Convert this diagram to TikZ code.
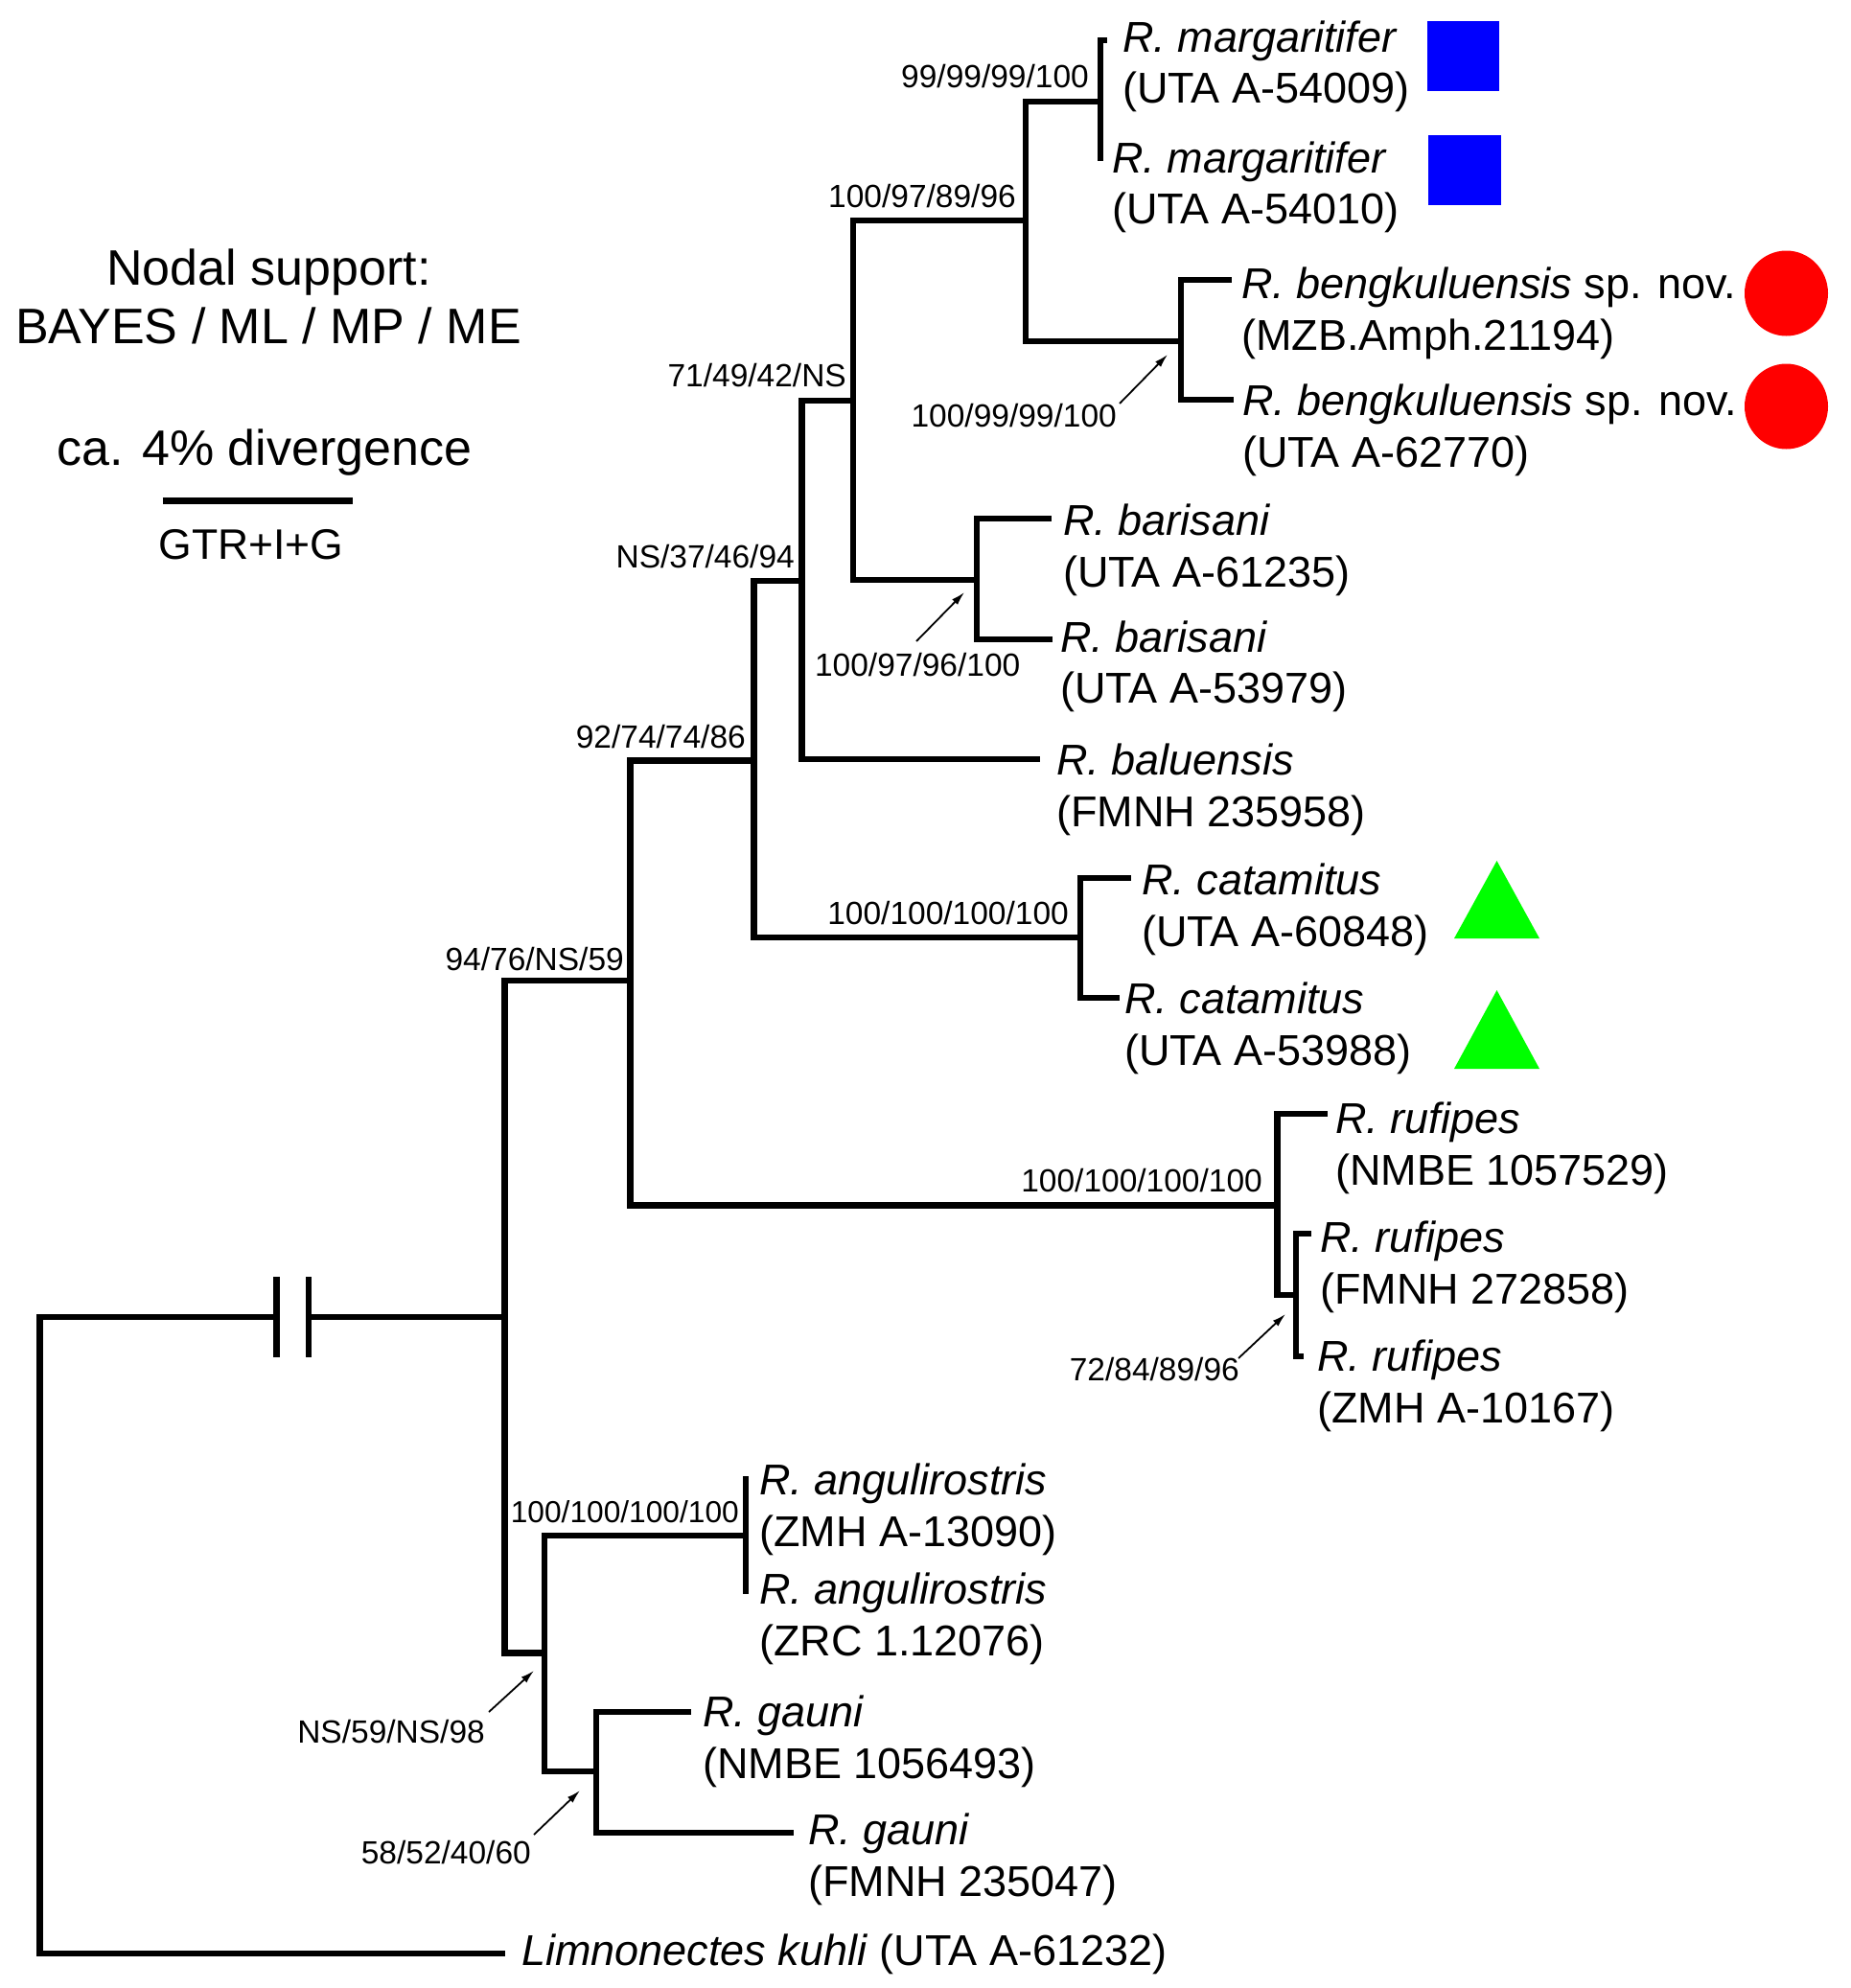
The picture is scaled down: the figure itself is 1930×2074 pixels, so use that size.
\documentclass[tikz,border=0pt]{standalone}
\usepackage{fontspec}
\setmainfont{Liberation Sans}
\usetikzlibrary{arrows.meta}
\definecolor{symblue}{RGB}{0,0,255}
\definecolor{symred}{RGB}{255,0,0}
\definecolor{symgreen}{RGB}{0,255,0}
\begin{document}
\begin{tikzpicture}[x=1pt,y=-1pt,
  branch/.style={line width=6.3pt, line join=miter, line cap=butt},
  pointer/.style={line width=1.8pt, -{Latex[length=14pt,width=8pt]}},
  sup/.style={font=\fontsize{33.5}{40}\selectfont, inner sep=0pt, anchor=base east},
  tax/.style={font=\fontsize{45}{54}\selectfont, inner sep=0pt, anchor=base west},
  legend/.style={font=\fontsize{52}{62}\selectfont, inner sep=0pt, anchor=base}]
\useasboundingbox (0,0) rectangle (1930,2074);
\fill[white] (0,0) rectangle (1930,2074);

% ---------- legend ----------
\node[legend] (leg1) at (280.5,297) {Nodal support:};
\node[legend] (leg2) at (280,358) {BAYES / ML / MP / ME};
\node[legend] (leg3) at (276,485) {ca. 4\% divergence};
\coordinate (sbL) at (169.5,522);
\coordinate (sbR) at (367.5,522);
\draw[line width=7pt] (sbL) -- (sbR);
\node[font=\fontsize{44.5}{53}\selectfont, inner sep=0pt, anchor=base] (gtr) at (262,583) {GTR+I+G};

% ---------- tree coordinates ----------
\coordinate (rootT) at (41.5,1374);
\coordinate (rootB) at (41.5,2038);
\coordinate (brkL) at (288.5,1374);
\coordinate (brkR) at (321.7,1374);
\coordinate (bk1a) at (288.5,1332);
\coordinate (bk1b) at (288.5,1416);
\coordinate (bk2a) at (321.7,1332);
\coordinate (bk2b) at (321.7,1416);
\coordinate (nI) at (526.5,1374);
\coordinate (tLim) at (526.5,2038);
\coordinate (nA) at (657.5,1023);
\coordinate (nM) at (568,1724.5);
\coordinate (nB) at (786.5,793.5);
\coordinate (nK) at (1332.5,1257.5);
\coordinate (nC) at (836.5,606);
\coordinate (nJ) at (1127,978);
\coordinate (nD) at (890,418);
\coordinate (tBal) at (1085,792);
\coordinate (nE) at (1070,230);
\coordinate (nH) at (1019,605);
\coordinate (nF) at (1148,106);
\coordinate (nG) at (1232,356);
\coordinate (tM1) at (1155,42);
\coordinate (tM2) at (1148,168);
\coordinate (tB1) at (1285,292);
\coordinate (tB2) at (1287,417);
\coordinate (tBa1) at (1097,541);
\coordinate (tBa2) at (1098,667);
\coordinate (tC1) at (1180,916);
\coordinate (tC2) at (1168,1041);
\coordinate (tR1) at (1385,1162);
\coordinate (nL) at (1352,1351);
\coordinate (tR2) at (1368,1287);
\coordinate (tR3) at (1360,1415);
\coordinate (nN) at (778,1602);
\coordinate (tA1) at (778,1540);
\coordinate (tA2) at (778,1663);
\coordinate (nO) at (622,1848);
\coordinate (tG1) at (721,1786);
\coordinate (tG2) at (827.5,1912);

% ---------- branches ----------
\draw[branch] (brkL) -- (rootT) -- (rootB) -- (tLim);
\draw[branch] (brkR) -- (nI);
\draw[branch] (bk1a) -- (bk1b);
\draw[branch] (bk2a) -- (bk2b);
\draw[branch] (nI) |- (nA);
\draw[branch] (nI) |- (nM);
\draw[branch] (nA) |- (nB);
\draw[branch] (nA) |- (nK);
\draw[branch] (nB) |- (nC);
\draw[branch] (nB) |- (nJ);
\draw[branch] (nC) |- (nD);
\draw[branch] (nC) |- (tBal);
\draw[branch] (nD) |- (nE);
\draw[branch] (nD) |- (nH);
\draw[branch] (nE) |- (nF);
\draw[branch] (nE) |- (nG);
\draw[branch] (nF) |- (tM1);
\draw[branch] (nF) -- (tM2);
\draw[branch] (nG) |- (tB1);
\draw[branch] (nG) |- (tB2);
\draw[branch] (nH) |- (tBa1);
\draw[branch] (nH) |- (tBa2);
\draw[branch] (nJ) |- (tC1);
\draw[branch] (nJ) |- (tC2);
\draw[branch] (nK) |- (tR1);
\draw[branch] (nK) |- (nL);
\draw[branch] (nL) |- (tR2);
\draw[branch] (nL) |- (tR3);
\draw[branch] (nM) |- (nN);
\draw[branch] (nM) |- (nO);
\draw[branch] (nN) -- (tA1);
\draw[branch] (nN) -- (tA2);
\draw[branch] (nO) |- (tG1);
\draw[branch] (nO) |- (tG2);

% ---------- support values ----------
\node[sup] (s1) at (1136,92) {99/99/99/100};
\node[sup] (s2) at (1060,216) {100/97/89/96};
\node[sup] (s3) at (883,403) {71/49/42/NS};
\node[sup] (s4) at (829,592) {NS/37/46/94};
\node[sup] (s5) at (778,780) {92/74/74/86};
\node[sup] (s6) at (651,1012) {94/76/NS/59};
\node[sup] (s7) at (1115,964) {100/100/100/100};
\node[sup] (s8) at (1317,1243) {100/100/100/100};
\node[sup, font=\fontsize{31.7}{38}\selectfont] (s9) at (771,1588) {100/100/100/100};

\node[sup] (a1) at (1165,445) {100/99/99/100};
\node[sup] (a2) at (1064.5,705) {100/97/96/100};
\node[sup] (a3) at (1293,1440) {72/84/89/96};
\node[sup] (a4) at (506,1818) {NS/59/NS/98};
\node[sup] (a5) at (554,1944) {58/52/40/60};

\coordinate (a1t) at (1168,421);  \coordinate (a1h) at (1218,370);
\coordinate (a2t) at (956,669);   \coordinate (a2h) at (1006,618);
\coordinate (a3t) at (1292,1417); \coordinate (a3h) at (1341,1371);
\coordinate (a4t) at (510,1786);  \coordinate (a4h) at (557,1743);
\coordinate (a5t) at (557,1914);  \coordinate (a5h) at (605,1868);
\draw[pointer] (a1t) -- (a1h);
\draw[pointer] (a2t) -- (a2h);
\draw[pointer] (a3t) -- (a3h);
\draw[pointer] (a4t) -- (a4h);
\draw[pointer] (a5t) -- (a5h);

% ---------- taxa ----------
\node[tax] (m1a) at (1171,55) {\textit{R. margaritifer}};
\node[tax] (m1b) at (1171,108) {(UTA A-54009)};
\node[tax] (m2a) at (1160,180) {\textit{R. margaritifer}};
\node[tax] (m2b) at (1160,233) {(UTA A-54010)};
\node[tax] (b1a) at (1295,311) {\textit{R. bengkuluensis} sp. nov.};
\node[tax] (b1b) at (1295,365) {(MZB.Amph.21194)};
\node[tax] (b2a) at (1296,433) {\textit{R. bengkuluensis} sp. nov.};
\node[tax] (b2b) at (1296,487) {(UTA A-62770)};
\node[tax] (r1a) at (1109,558) {\textit{R. barisani}};
\node[tax] (r1b) at (1109,612) {(UTA A-61235)};
\node[tax] (r2a) at (1106,680) {\textit{R. barisani}};
\node[tax] (r2b) at (1106,733) {(UTA A-53979)};
\node[tax] (la) at (1102,808) {\textit{R. baluensis}};
\node[tax] (lb) at (1102,862) {(FMNH 235958)};
\node[tax] (c1a) at (1191,933) {\textit{R. catamitus}};
\node[tax] (c1b) at (1191,987) {(UTA A-60848)};
\node[tax] (c2a) at (1173,1057) {\textit{R. catamitus}};
\node[tax] (c2b) at (1173,1111) {(UTA A-53988)};
\node[tax] (u1a) at (1393,1182) {\textit{R. rufipes}};
\node[tax] (u1b) at (1393,1236) {(NMBE 1057529)};
\node[tax] (u2a) at (1377,1306) {\textit{R. rufipes}};
\node[tax] (u2b) at (1377,1360) {(FMNH 272858)};
\node[tax] (u3a) at (1374,1430) {\textit{R. rufipes}};
\node[tax] (u3b) at (1374,1484) {(ZMH A-10167)};
\node[tax] (g1a) at (792,1559) {\textit{R. angulirostris}};
\node[tax] (g1b) at (792,1613) {(ZMH A-13090)};
\node[tax] (g2a) at (792,1673) {\textit{R. angulirostris}};
\node[tax] (g2b) at (792,1727) {(ZRC 1.12076)};
\node[tax] (n1a) at (733,1801) {\textit{R. gauni}};
\node[tax] (n1b) at (733,1855) {(NMBE 1056493)};
\node[tax] (n2a) at (843,1924) {\textit{R. gauni}};
\node[tax] (n2b) at (843,1978) {(FMNH 235047)};
\node[tax] (lim) at (544,2050) {\textit{Limnonectes kuhli} (UTA A-61232)};

% ---------- symbols ----------
\fill[symblue] (1489,22) rectangle (1564,95);
\fill[symblue] (1490,141) rectangle (1566,214);
\fill[symred] (1863.5,306) ellipse [x radius=43.5pt, y radius=44.5pt];
\fill[symred] (1863.5,424) ellipse [x radius=43.5pt, y radius=44.5pt];
\fill[symgreen] (1517,979) -- (1606,979) -- (1561.5,898) -- cycle;
\fill[symgreen] (1517,1115) -- (1606,1115) -- (1561.5,1033) -- cycle;
\end{tikzpicture}
\end{document}
